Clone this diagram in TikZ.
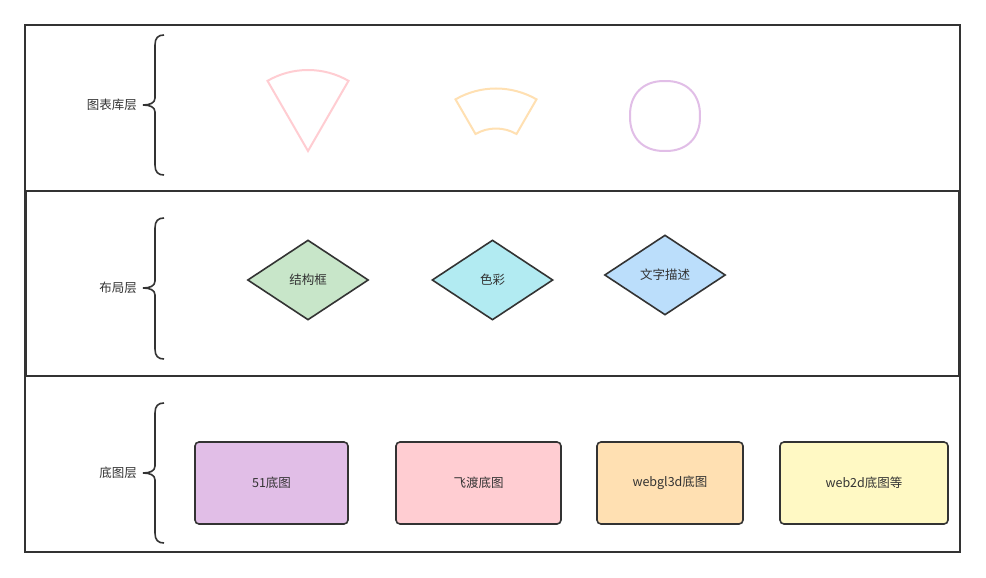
\documentclass[tikz,border=0pt]{standalone}
\usepackage{fontspec}
\setmainfont{Noto Sans CJK SC}
\usetikzlibrary{shapes.geometric}
\definecolor{edge}{HTML}{333333}
\definecolor{txt}{HTML}{333333}
\definecolor{cpink}{HTML}{FFCDD2}
\definecolor{corange}{HTML}{FFE0B2}
\definecolor{cpurple}{HTML}{E1BEE7}
\definecolor{cgreen}{HTML}{C8E6C9}
\definecolor{ccyan}{HTML}{B2EBF2}
\definecolor{cblue}{HTML}{BBDEFB}
\definecolor{cyellow}{HTML}{FFF9C4}
\tikzset{
  layerbox/.style={draw=edge, line width=1.8pt, rectangle, inner sep=0pt},
  lbl/.style={anchor=east, text=txt, font=\fontsize{12.5pt}{14pt}\selectfont, inner sep=0pt},
  bracepath/.style={draw=edge, line width=1.6pt},
  topshape/.style={line width=2pt, line join=miter},
  dia/.style={diamond, draw=edge, line width=1.6pt, inner sep=0pt, minimum width=121pt, minimum height=80pt, text=txt, font=\fontsize{12.5pt}{14pt}\selectfont},
  basebox/.style={rectangle, rounded corners=4pt, draw=edge, line width=1.6pt, minimum height=82pt, inner sep=0pt, text=txt, font=\fontsize{12.5pt}{14pt}\selectfont}
}
\newcommand\mybrace[3]{%
  \draw[bracepath] (164,#1) .. controls (158,#1) and (155,#1+3) .. (155,#1+10)
    -- (155,#3-7) .. controls (155,#3-2) and (150,#3) .. (143,#3)
    .. controls (150,#3) and (155,#3+2) .. (155,#3+7)
    -- (155,#2-10) .. controls (155,#2-3) and (158,#2) .. (164,#2);}
\begin{document}
\begin{tikzpicture}[x=1pt,y=-1pt]
\useasboundingbox (0,0) rectangle (986,578);
\fill[white] (0,0) rectangle (986,578);
% layers
\node[layerbox, minimum width=935pt, minimum height=166pt] (L1) at (492.5,108) {};
\node[layerbox, minimum width=933pt, minimum height=185pt] (L2) at (492.5,283.5) {};
\node[layerbox, minimum width=935pt, minimum height=176pt] (L3) at (492.5,464) {};
\draw[edge, line width=2.6pt] (25,25) rectangle (960,552);
% braces and labels
\mybrace{35}{175}{105}
\mybrace{218}{359}{288}
\mybrace{403}{543}{473}
\node[lbl] (t1) at (137,105) {图表库层};
\node[lbl] (t2) at (137,288) {布局层};
\node[lbl] (t3) at (137,473) {底图层};
% top shapes
\coordinate (sc) at (308,151);
\draw[topshape, draw=cpink] (sc) -- (267.5,80.85) arc[start angle=-120, end angle=-60, radius=81] -- cycle;
\coordinate (ac) at (496,169.5);
\draw[topshape, draw=corange] (455.5,99.35) arc[start angle=-120, end angle=-60, radius=81]
  -- (516.5,134) arc[start angle=-60, end angle=-120, radius=41] -- cycle;
\coordinate (cir) at (665,116);
\draw[draw=cpurple, line width=2pt] plot[domain=1.8:361.8, samples=101, smooth]
  ({665+35*sign(cos(\x))*abs(cos(\x))^0.88}, {116+35*sign(sin(\x))*abs(sin(\x))^0.88}) -- cycle;
% diamonds
\node[dia, fill=cgreen] (d1) at (308,280) {结构框};
\node[dia, fill=ccyan] (d2) at (492.5,280) {色彩};
\node[dia, fill=cblue] (d3) at (665,275) {文字描述};
% base boxes
\node[basebox, fill=cpurple, minimum width=153pt] (b1) at (271.5,483) {51底图};
\node[basebox, fill=cpink, minimum width=165pt] (b2) at (478.5,483) {飞渡底图};
\node[basebox, fill=corange, minimum width=146pt] (b3) at (670,483) {webgl3d底图};
\node[basebox, fill=cyellow, minimum width=168pt] (b4) at (864,483) {web2d底图等};
\end{tikzpicture}
\end{document}
